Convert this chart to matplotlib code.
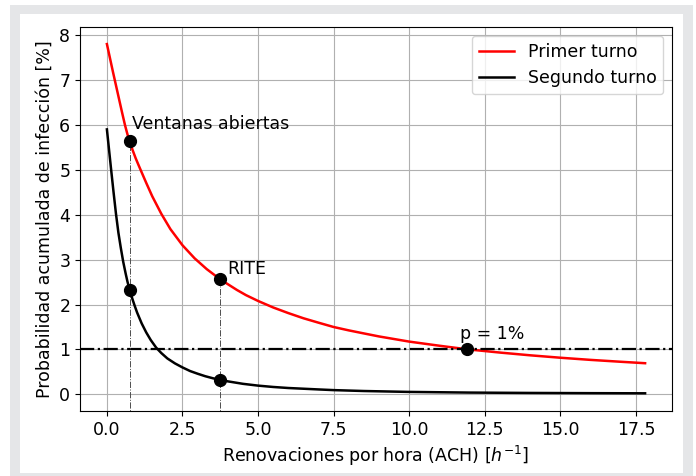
import matplotlib
matplotlib.use("Agg")
import matplotlib.pyplot as plt
from matplotlib.patches import Rectangle

# ACH values and cumulative infection probability (%)
ach_primer = [0.0, 0.1, 0.2, 0.3, 0.4, 0.5, 0.6, 0.68, 0.75, 0.85, 0.95, 1.05,
              1.12, 1.3, 1.5, 1.8, 2.1, 2.5, 2.9, 3.3, 3.75, 4.3, 4.6, 5.0,
              5.5, 6.0, 6.5, 7.0, 7.5, 8.0, 8.5, 9.0, 10.0, 11.0, 11.9, 13.0,
              14.0, 15.0, 16.0, 17.0, 17.8]
p_primer = [7.80, 7.49, 7.18, 6.88, 6.58, 6.28, 5.99, 5.79, 5.64, 5.44, 5.26,
            5.10, 4.99, 4.71, 4.41, 4.02, 3.68, 3.32, 3.03, 2.79, 2.56, 2.325,
            2.21, 2.08, 1.935, 1.81, 1.695, 1.596, 1.50, 1.425, 1.357, 1.29,
            1.175, 1.083, 1.005, 0.931, 0.87, 0.816, 0.768, 0.726, 0.694]

ach_segundo = [0.0, 0.07, 0.14, 0.22, 0.3, 0.38, 0.46, 0.54, 0.62, 0.68, 0.75,
               0.85, 0.92, 1.0, 1.15, 1.3, 1.45, 1.63, 1.8, 2.0, 2.25, 2.5,
               2.75, 3.0, 3.25, 3.5, 3.75, 4.0, 4.5, 5.0, 5.5, 6.0, 7.0, 7.5,
               8.5, 10.0, 12.0, 14.0, 16.0, 17.8]
p_segundo = [5.90, 5.45, 5.00, 4.50, 4.02, 3.60, 3.26, 2.95, 2.69, 2.51, 2.33,
             2.11, 1.97, 1.82, 1.58, 1.38, 1.21, 1.04, 0.92, 0.80, 0.69, 0.60,
             0.52, 0.46, 0.405, 0.36, 0.32, 0.29, 0.235, 0.195, 0.165, 0.142,
             0.11, 0.095, 0.075, 0.055, 0.04, 0.032, 0.027, 0.024]

# highlighted cases
ach_ventanas = 0.75
ach_rite = 3.75
ach_p1 = 11.9
p_ventanas = [5.64, 2.33]
p_rite = [2.56, 0.32]
umbral = 1.0

FS = 12.5

fig = plt.figure(figsize=(6.96, 4.76), dpi=100)
fig.add_artist(Rectangle((10 / 696, -0.01), 683 / 696, 0.9995, transform=fig.transFigure,
                         facecolor="#e5e6e8", edgecolor="none", zorder=-10))
fig.add_artist(Rectangle((20 / 696, 3 / 476), 663 / 696, 459 / 476, transform=fig.transFigure,
                         facecolor="white", edgecolor="none", zorder=-9))

ax = fig.add_axes([80 / 696, 65 / 476, 592 / 696, 384 / 476])
ax.set_ylim(-0.37, 8.18)
ax.set_xlim(-0.89, 18.69)

ax.plot(ach_primer, p_primer, color="red", lw=1.8, label="Primer turno")
ax.plot(ach_segundo, p_segundo, color="black", lw=1.8, label="Segundo turno")
ax.axhline(umbral, color="black", ls="-.", lw=1.6)

for x, y in [(ach_ventanas, p_ventanas[0]), (ach_rite, p_rite[0])]:
    ax.plot([x, x], [-1, y], color="0.3", ls="-.", lw=0.7)

ax.plot([ach_ventanas, ach_ventanas], p_ventanas, "o", color="black", ms=8.5, ls="none")
ax.plot([ach_rite, ach_rite], p_rite, "o", color="black", ms=8.5, ls="none")
ax.plot([ach_p1], [umbral], "o", color="black", ms=8.5)

ax.text(0.83, 5.92, "Ventanas abiertas", fontsize=FS, va="baseline")
ax.text(3.97, 2.67, "RITE", fontsize=FS, va="baseline")
ax.text(11.69, 1.24, "p = 1%", fontsize=FS, va="baseline")

ax.grid(True)
ax.tick_params(labelsize=FS)
ax.set_xlabel("Renovaciones por hora (ACH) [$h^{-1}$]", fontsize=FS)
ax.set_ylabel("Probabilidad acumulada de infección [%]", fontsize=FS)
ax.legend(loc="upper right", fontsize=FS)

fig.savefig("out.png", dpi=100)
